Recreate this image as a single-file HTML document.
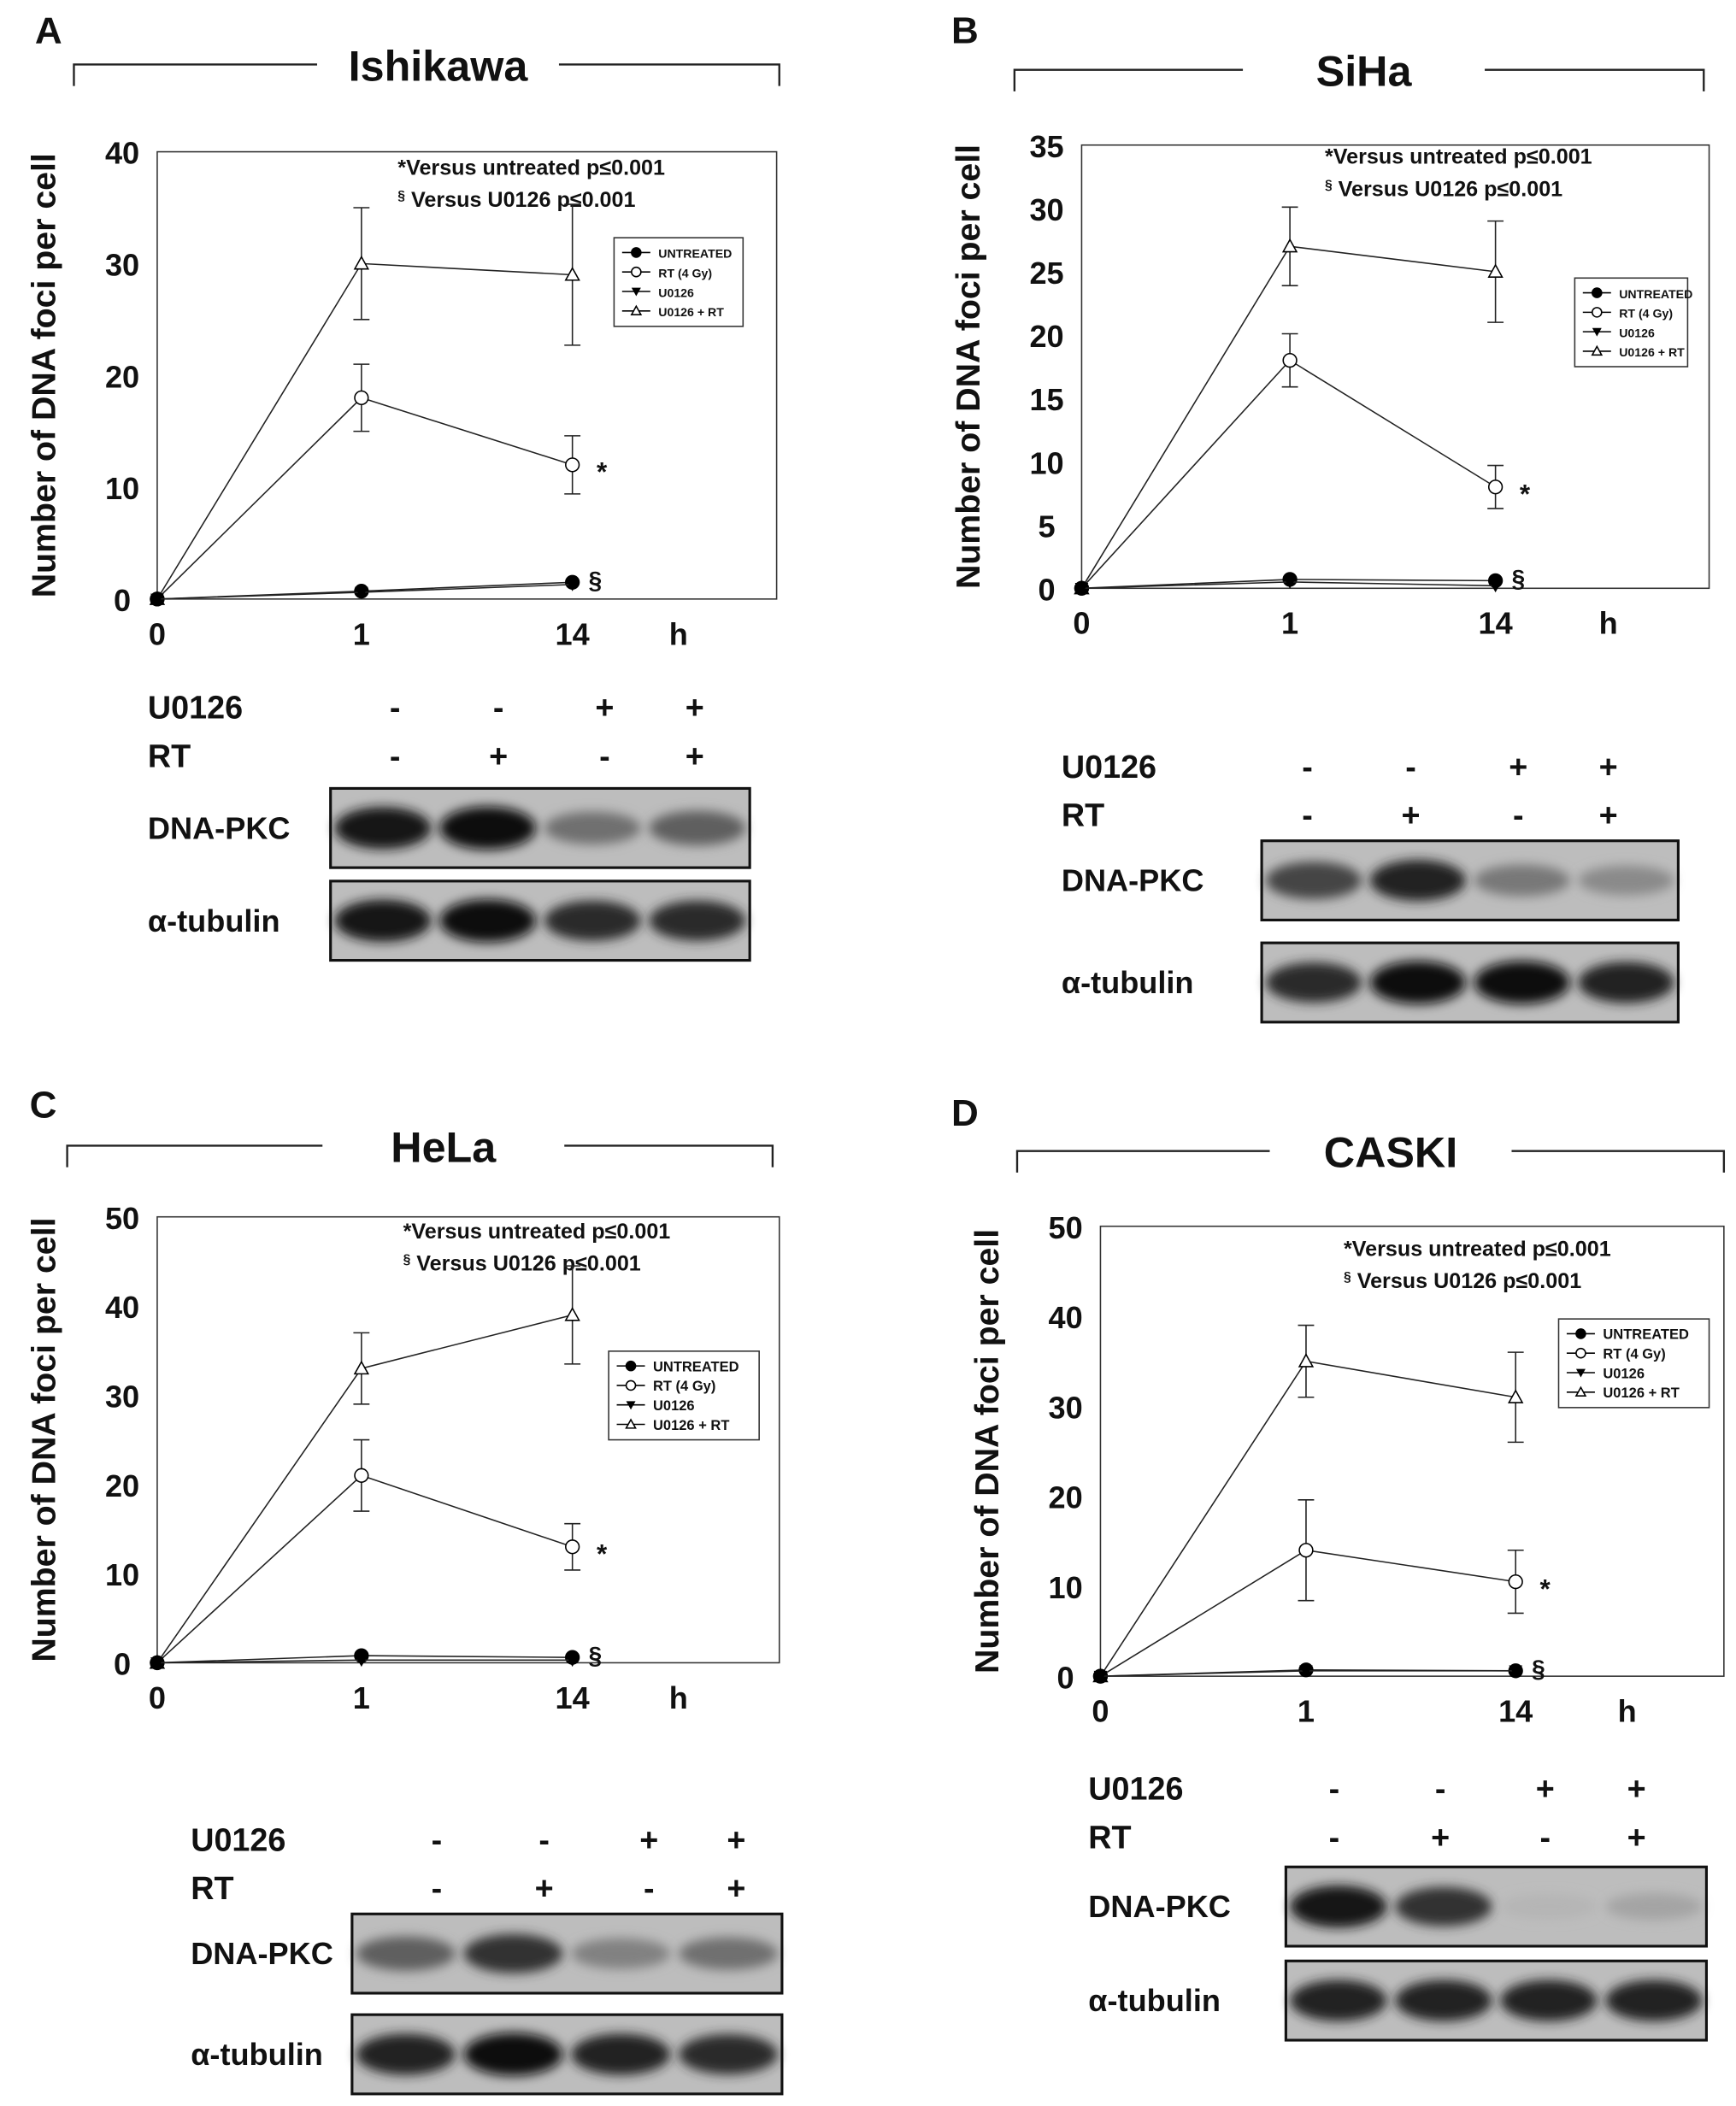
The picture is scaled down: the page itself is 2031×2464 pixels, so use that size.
<!DOCTYPE html>
<html><head><meta charset="utf-8">
<style>
html,body{margin:0;padding:0;background:#fff;}
svg{display:block;font-family:"Liberation Sans",Arial,sans-serif;font-weight:bold;}
</style></head>
<body>
<svg id="fig" width="2031" height="2464" viewBox="0 0 1292 1568" preserveAspectRatio="none" xmlns="http://www.w3.org/2000/svg">
<defs>
<filter id="blur" x="-20%" y="-50%" width="140%" height="200%"><feGaussianBlur stdDeviation="4"/></filter>
</defs>
</svg>
<script>
// ---- data ----
const timeLabels = ['0','1','14'];
// Panel A: Ishikawa
const rtuA = [0, 30, 29];   const rtuErrA = [0, 5, 6.3];
const rtA = [0, 18, 12];    const rtErrA = [0, 3, 2.6];
const untA = [0, 0.7, 1.5]; const u0A = [0, 0.6, 1.3];
const ticksA = [0, 10, 20, 30, 40];
// Panel B: SiHa
const rtuB = [0, 27, 25];   const rtuErrB = [0, 3.1, 4];
const rtB = [0, 18, 8];     const rtErrB = [0, 2.1, 1.7];
const untB = [0, 0.7, 0.6]; const u0B = [0, 0.5, 0.2];
const ticksB = [0, 5, 10, 15, 20, 25, 30, 35];
// Panel C: HeLa
const rtuC = [0, 33, 39];   const rtuErrC = [0, 4, 5.5];
const rtC = [0, 21, 13];    const rtErrC = [0, 4, 2.6];
const untC = [0, 0.8, 0.6]; const u0C = [0, 0.3, 0.3];
const ticksC = [0, 10, 20, 30, 40, 50];
// Panel D: CASKI
const rtuD = [0, 35, 31];   const rtuErrD = [0, 4, 5];
const rtD = [0, 14, 10.5];  const rtErrD = [0, 5.6, 3.5];
const untD = [0, 0.7, 0.6]; const u0D = [0, 0.6, 0.6];
const ticksD = [0, 10, 20, 30, 40, 50];
// Western blot band intensities (0..1 darkness)
const pkcA = [0.95, 1.0, 0.45, 0.55]; const tubA = [0.95, 1.0, 0.85, 0.85];
const pkcB = [0.7, 0.9, 0.4, 0.3];    const tubB = [0.85, 1.0, 1.0, 0.9];
const pkcC = [0.55, 0.8, 0.35, 0.45]; const tubC = [0.9, 1.0, 0.9, 0.85];
const pkcD = [0.95, 0.8, 0.05, 0.15]; const tubD = [0.9, 0.9, 0.9, 0.9];

const svg = document.getElementById('fig');
const NS = 'http://www.w3.org/2000/svg';
function mk(tag, attrs, parent){
  const e = document.createElementNS(NS, tag);
  for (const k in attrs) e.setAttribute(k, attrs[k]);
  (parent||svg).appendChild(e);
  return e;
}
function txt(s, x, y, size, parent, anchor){
  const t = mk('text', {x:x, y:y, 'font-size':size, 'text-anchor':anchor||'start', fill:'#111'}, parent);
  t.textContent = s;
  return t;
}
function marker(g, type, x, y, r){
  if (type==='fc') return mk('circle',{cx:x,cy:y,r:r,fill:'#000',stroke:'#000'},g);
  if (type==='oc') return mk('circle',{cx:x,cy:y,r:r,fill:'#fff',stroke:'#000','stroke-width':1},g);
  if (type==='ft') return mk('polygon',{points:`${x-r},${y-r*0.8} ${x+r},${y-r*0.8} ${x},${y+r}`,fill:'#000'},g);
  return mk('polygon',{points:`${x-r},${y+r*0.8} ${x+r},${y+r*0.8} ${x},${y-r}`,fill:'#fff',stroke:'#000','stroke-width':1},g);
}

function panel(P){
  const g = mk('g', {});
  
  
  const L = txt(P.letter, P.lx, P.ly, 28, g);
  
  
  const br = mk('path', {d:`M${P.bx0},${P.by+16} V${P.by} H${P.tx-90} M${P.tx+90},${P.by} H${P.bx1} V${P.by+16}`, fill:'none', stroke:'#222','stroke-width':1.5}, g);
  
  
  const tt = txt(P.title, P.tx, P.by+12, 32, g, 'middle');
  
  
  const ymax = P.ticks[P.ticks.length-1];
  const Y = v => P.y0 - (v/ymax)*(P.y0-P.y1);
  const X = i => P.xs[i];
  const box = mk('rect',{x:P.x0,y:P.y1,width:P.x1-P.x0,height:P.y0-P.y1,fill:'none',stroke:'#333','stroke-width':1},g);
  
  
  P.ticks.forEach(t=>{
    const e = txt(String(t), P.x0-26, Y(t)+9, 23, g, 'middle');
    
    
  });
  timeLabels.forEach((s,i)=>{
    const e = txt(s, X(i), P.y0+34, 23, g, 'middle');
    
    
  });
  const h = txt('h', P.hx, P.y0+34, 23, g, 'middle');
  
  
  const yt = txt('Number of DNA foci per cell', 0, 0, 25, g, 'middle');
  yt.setAttribute('transform', `translate(${P.x0-76},${(P.y0+P.y1)/2}) rotate(-90)`);
  
  
  const a1 = txt('*Versus untreated p\u22640.001', P.ax, P.ay, 16, g);
  
  
  const a2 = mk('text',{x:P.ax, y:P.ay+24,'font-size':16,fill:'#111'},g);
  a2.innerHTML = '<tspan font-size="10" dy="-5">\u00a7</tspan><tspan dy="5"> Versus U0126 p\u22640.001</tspan>';
  
  
  const series = [
    {name:'u0126-rt', vals:P.rtu, err:P.rtuErr, m:'ot'},
    {name:'rt-4gy', vals:P.rt, err:P.rtErr, m:'oc'},
    {name:'untreated', vals:P.unt, err:null, m:'fc'},
    {name:'u0126', vals:P.u0, err:null, m:'ft'}
  ];
  series.forEach(s=>{
    const sg = mk('g',{},g);
    
    
    if (s.err) s.vals.forEach((v,i)=>{
      if (!s.err[i]) return;
      const e = mk('path',{d:`M${X(i)},${Y(v+s.err[i])} V${Y(v-s.err[i])} M${X(i)-6},${Y(v+s.err[i])} h12 M${X(i)-6},${Y(v-s.err[i])} h12`,stroke:'#222','stroke-width':1,fill:'none'},sg);
      
      
    });
    const line = mk('polyline',{points:s.vals.map((v,i)=>X(i)+','+Y(v)).join(' '),fill:'none',stroke:'#222','stroke-width':1},sg);
    
    
    s.vals.forEach((v,i)=>{
      const mm = marker(sg, s.m, X(i), Y(v), 5);
      
      
    });
  });
  const st = txt('*', X(2)+18, Y(P.rt[2])+12, 20, g);
  
  
  const sec = txt('\u00a7', X(2)+12, Y(P.unt[2])+5, 18, g);
  
  
  const lg = mk('g',{},g);
  
  
  mk('rect',{x:P.lgx,y:P.lgy,width:P.lgw,height:66,fill:'#fff',stroke:'#333','stroke-width':1},lg);
  const lfs = P.lgw < 100 ? 9 : 10.5;
  [['UNTREATED','fc'],['RT (4 Gy)','oc'],['U0126','ft'],['U0126 + RT','ot']].forEach((e,i)=>{
    const ey = P.lgy+11+i*14.5;
    const eg = mk('g',{},lg);
    
    
    mk('line',{x1:P.lgx+6,x2:P.lgx+27,y1:ey,y2:ey,stroke:'#000','stroke-width':1},eg);
    marker(eg, e[1], P.lgx+16.5, ey, 3.5);
    txt(e[0], P.lgx+33, ey+4, lfs, eg);
  });
  const wb = mk('g',{},g);
  
  
  const u = txt('U0126', P.wlx, P.wuy, 24, wb);
  
  
  const r = txt('RT', P.wlx, P.wuy+36, 24, wb);
  
  
  const uSigns = ['-','-','+','+'], rSigns = ['-','+','-','+'];
  P.signX.forEach((sx,i)=>{
    const a = txt(uSigns[i], sx, P.wuy, 24, wb, 'middle');
    
    
    const b = txt(rSigns[i], sx, P.wuy+36, 24, wb, 'middle');
    
    
  });
  [[P.pkcY,'DNA-PKC',P.pkc,'dna-pkc-blot'],[P.tubY,'\u03b1-tubulin',P.tub,'tubulin-blot']].forEach(row=>{
    const [by,lab,vals,nm] = row;
    const bh = 59;
    const lt = txt(lab, P.llx || P.wlx, by+bh/2+8, 23, wb);
    
    
    const bg = mk('g',{},wb);
    
    
    mk('rect',{x:P.bx,y:by,width:P.bw,height:bh,fill:'#bdbdbd'},bg);
    const lw = P.bw/4;
    vals.forEach((v,i)=>{
      const c = Math.round(190 - v*175);
      const band = mk('ellipse',{cx:P.bx+lw*(i+0.5),cy:by+bh/2,rx:lw*0.46,ry:9+v*7,fill:`rgb(${c},${c},${c})`,filter:'url(#blur)'},bg);
      
      
    });
    mk('rect',{x:P.bx,y:by,width:P.bw,height:bh,fill:'none',stroke:'#111','stroke-width':2},bg);
  });
}

panel({letter:'A',lx:26,ly:32,title:'Ishikawa',tx:326,by:48,bx0:55,bx1:580,
  x0:117,x1:578,y0:446,y1:113,xs:[117,269,426],hx:505,ticks:ticksA,
  rtu:rtuA,rtuErr:rtuErrA,rt:rtA,rtErr:rtErrA,unt:untA,u0:u0A,
  ax:296,ay:130,lgx:457,lgy:177,lgw:96,
  wlx:110,wuy:535,signX:[294,371,450,517],bx:246,bw:312,pkcY:587,tubY:656,pkc:pkcA,tub:tubA});
panel({letter:'B',lx:708,ly:32,title:'SiHa',tx:1015,by:52,bx0:755,bx1:1268,
  x0:805,x1:1272,y0:438,y1:108,xs:[805,960,1113],hx:1197,ticks:ticksB,
  rtu:rtuB,rtuErr:rtuErrB,rt:rtB,rtErr:rtErrB,unt:untB,u0:u0B,
  ax:986,ay:122,lgx:1172,lgy:207,lgw:84,
  wlx:790,wuy:579,signX:[973,1050,1130,1197],bx:939,bw:310,pkcY:626,tubY:702,pkc:pkcB,tub:tubB});
panel({letter:'C',lx:22,ly:832,title:'HeLa',tx:330,by:853,bx0:50,bx1:575,
  x0:117,x1:580,y0:1238,y1:906,xs:[117,269,426],hx:505,ticks:ticksC,
  rtu:rtuC,rtuErr:rtuErrC,rt:rtC,rtErr:rtErrC,unt:untC,u0:u0C,
  ax:300,ay:922,lgx:453,lgy:1006,lgw:112,
  wlx:142,llx:142,wuy:1378,signX:[325,405,483,548],bx:262,bw:320,pkcY:1425,tubY:1500,pkc:pkcC,tub:tubC});
panel({letter:'D',lx:708,ly:838,title:'CASKI',tx:1035,by:857,bx0:757,bx1:1283,
  x0:819,x1:1283,y0:1248,y1:913,xs:[819,972,1128],hx:1211,ticks:ticksD,
  rtu:rtuD,rtuErr:rtuErrD,rt:rtD,rtErr:rtErrD,unt:untD,u0:u0D,
  ax:1000,ay:935,lgx:1160,lgy:982,lgw:112,
  wlx:810,wuy:1340,signX:[993,1072,1150,1218],bx:957,bw:313,pkcY:1390,tubY:1460,pkc:pkcD,tub:tubD});
</script>
</body></html>
